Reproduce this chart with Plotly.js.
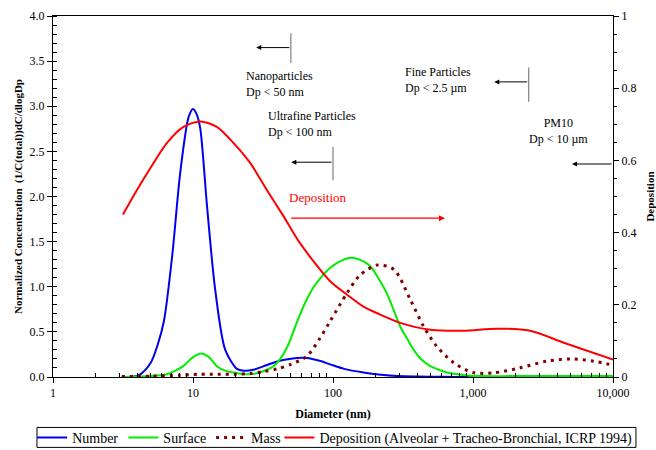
<!DOCTYPE html>
<html>
<head>
<meta charset="utf-8">
<script src="https://cdn.plot.ly/plotly-3.0.1.min.js"></script>
<style>html,body{margin:0;padding:0;background:#fff;}#chart{width:656px;height:450px;}</style>
</head>
<body>
<div id="chart"></div>
<script>
// Diameter (nm) and normalized concentration values
const numberD = [3.1, 3.6, 4.2, 5, 5.6, 6.2, 7.1, 8.1, 9.3, 10, 10.7, 11.3, 12.6, 14.4, 17, 20.6, 23, 27, 32, 38, 45, 55, 65, 80, 95.5, 120, 165, 220, 290, 400, 600, 1000, 2000, 5000, 10000];
const numberV = [0, 0, 0.03, 0.16, 0.36, 0.62, 1.34, 2.26, 2.88, 2.97, 2.9, 2.74, 1.89, 0.97, 0.30, 0.09, 0.07, 0.08, 0.12, 0.16, 0.19, 0.21, 0.21, 0.18, 0.14, 0.09, 0.05, 0.025, 0.01, 0.005, 0.002, 0, 0, 0, 0];

const surfaceD = [3.1, 4, 5, 6.5, 7.5, 8.5, 10, 11.5, 13, 14.8, 17, 19.5, 22, 25.6, 30, 37.6, 42, 48, 55, 64, 73, 84, 95.5, 115, 134, 155, 184, 210, 242, 270, 302, 340, 377, 430, 496, 570, 652, 780, 912, 1200, 2000, 5000, 10000];
const surfaceV = [0, 0.005, 0.01, 0.03, 0.07, 0.12, 0.22, 0.26, 0.22, 0.12, 0.07, 0.05, 0.035, 0.03, 0.05, 0.12, 0.2, 0.36, 0.6, 0.84, 1.0, 1.12, 1.21, 1.29, 1.32, 1.30, 1.23, 1.1, 0.93, 0.75, 0.56, 0.42, 0.30, 0.19, 0.12, 0.08, 0.05, 0.03, 0.017, 0.01, 0.01, 0.01, 0.01];

const massD = [3.1, 5, 8, 11, 15, 20, 26, 32, 40, 50, 65, 80, 95.5, 126, 156, 207, 273, 356, 444, 551, 725, 1000, 1390, 2150, 3350, 5000, 7300, 10000];
const massV = [0.005, 0.01, 0.02, 0.03, 0.03, 0.03, 0.04, 0.06, 0.09, 0.14, 0.23, 0.42, 0.62, 0.93, 1.13, 1.24, 1.19, 0.86, 0.56, 0.34, 0.16, 0.05, 0.045, 0.10, 0.175, 0.20, 0.175, 0.13];

// Deposition fraction (right axis)
const depD = [3.16, 3.98, 4.95, 6.5, 8.55, 11.3, 14.8, 19.5, 25.6, 33.7, 44.4, 58.3, 95.5, 126, 165, 217, 302, 496, 855, 1475, 2560, 4450, 10000];
const depV = [0.45, 0.518, 0.578, 0.648, 0.693, 0.708, 0.693, 0.648, 0.593, 0.518, 0.445, 0.37, 0.265, 0.228, 0.195, 0.173, 0.15, 0.131, 0.128, 0.134, 0.128, 0.095, 0.048];

const xTickVals = [1, 10, 100, 1000, 10000];
const xTickText = ['1', '10', '100', '1,000', '10,000'];

const seriesNames = ['Number', 'Surface', 'Mass', 'Deposition (Alveolar + Tracheo-Bronchial, ICRP 1994)'];

const minorX = [];
for (let e = 0; e < 4; e++) for (let k = 2; k <= 9; k++) minorX.push(k * Math.pow(10, e));

const serif = 'Times New Roman';

const traces = [
  {x: numberD, y: numberV, name: seriesNames[0], mode: 'lines', line: {color: '#0000ee', width: 2, shape: 'spline', smoothing: 0.8}},
  {x: surfaceD, y: surfaceV, name: seriesNames[1], mode: 'lines', line: {color: '#00ee00', width: 2, shape: 'spline', smoothing: 0.8}},
  {x: massD, y: massV, name: seriesNames[2], mode: 'lines', line: {color: '#800000', width: 3, dash: '3px,5px', shape: 'spline', smoothing: 0.8}},
  {x: depD, y: depV, name: seriesNames[3], yaxis: 'y2', legend: 'legend2', mode: 'lines', line: {color: '#ff0000', width: 2, shape: 'spline', smoothing: 0.8}}
];

// guide lines (vertical bars of the size-class markers)
const guides = [
  {x: [50, 50], y: [3.48, 3.81]},
  {x: [2500, 2500], y: [3.05, 3.43]},
  {x: [100, 100], y: [2.18, 2.55]}
];
guides.forEach(g => traces.push({x: g.x, y: g.y, mode: 'lines', showlegend: false, hoverinfo: 'skip', line: {color: '#808080', width: 1.2}}));

function arrow(x0, x1, y, color, width) {
  return {x: Math.log10(x1), y: y, ax: Math.log10(x0), ay: y, xref: 'x', yref: 'y', axref: 'x', ayref: 'y',
    showarrow: true, arrowhead: 2, arrowsize: 1, arrowwidth: width, arrowcolor: color, text: ''};
}
function label(x, y, text, anchor) {
  return {x: Math.log10(x), y: y, xref: 'x', yref: 'y', text: text, showarrow: false, xanchor: anchor, yanchor: 'middle', align: anchor,
    font: {family: serif, size: 12, color: '#000'}};
}

const annotations = [
  arrow(50, 28.3, 3.65, '#000', 1),
  arrow(2500, 1420, 3.27, '#000', 1),
  arrow(100, 50.4, 2.38, '#000', 1),
  arrow(10000, 5100, 2.36, '#000', 1),
  arrow(49, 630, 1.76, '#ff0000', 1.2),
  label(23.2, 3.25, 'Nanoparticles<br>Dp < 50 nm', 'left'),
  label(316, 3.29, 'Fine Particles<br>Dp < 2.5 µm', 'left'),
  label(33.2, 2.80, 'Ultrafine Particles<br>Dp < 100 nm', 'left'),
  label(4060, 2.73, 'PM10<br>Dp < 10 µm', 'center'),
  {x: Math.log10(46.9), y: 1.99, xref: 'x', yref: 'y', text: 'Deposition', showarrow: false, xanchor: 'left', yanchor: 'middle',
    font: {family: serif, size: 13, color: '#ff0000'}}
];

const legendCommon = {orientation: 'h', xref: 'container', yref: 'container', xanchor: 'left', yanchor: 'middle', y: 0.0267,
  borderwidth: 0, bgcolor: 'rgba(0,0,0,0)', font: {family: serif, size: 14, color: '#000'}, itemwidth: 30, tracegroupgap: 0};

const layout = {
  width: 656, height: 450,
  margin: {l: 53, r: 43, t: 16, b: 72.5},
  paper_bgcolor: '#fff', plot_bgcolor: '#fff',
  font: {family: serif, size: 12, color: '#000'},
  showlegend: true,
  legend: Object.assign({}, legendCommon, {x: 0.049}),
  legend2: Object.assign({}, legendCommon, {x: 0.426}),
  shapes: [{type: 'rect', xref: 'paper', yref: 'paper', x0: -0.0286, x1: 1.041, y0: -0.195, y1: -0.1397,
    line: {color: '#000', width: 1}, fillcolor: 'rgba(0,0,0,0)', layer: 'below'}],
  xaxis: {type: 'log', range: [0, 4], tickvals: xTickVals, ticktext: xTickText,
    showline: true, linecolor: '#000', linewidth: 1, mirror: true, showgrid: false, zeroline: false,
    ticks: 'outside', ticklen: 5, tickcolor: '#000',
    minor: {tickvals: minorX, ticks: 'inside', ticklen: 4, tickcolor: '#000', showgrid: false},
    tickfont: {family: serif, size: 12},
    title: {text: '<b>Diameter (nm)</b>', font: {family: serif, size: 12}, standoff: 10}},
  yaxis: {range: [0, 4], dtick: 0.5, tickformat: '.1f',
    showline: true, linecolor: '#000', linewidth: 1, showgrid: false, zeroline: false,
    ticks: 'outside', ticklen: 5, tickcolor: '#000',
    minor: {dtick: 0.1, ticks: 'inside', ticklen: 4, tickcolor: '#000', showgrid: false},
    tickfont: {family: serif, size: 12},
    title: {text: '<b>Normalized Concentration  (1/C(total))dC/dlogDp</b>', font: {family: serif, size: 11}, standoff: 4}},
  yaxis2: {range: [0, 1], dtick: 0.2, overlaying: 'y', side: 'right',
    showline: true, linecolor: '#000', linewidth: 1, showgrid: false, zeroline: false,
    ticks: 'outside', ticklen: 5, tickcolor: '#000',
    minor: {dtick: 0.05, ticks: 'outside', ticklen: 3, tickcolor: '#000', showgrid: false},
    tickfont: {family: serif, size: 12},
    title: {text: '<b>Deposition</b>', font: {family: serif, size: 11}, standoff: 10}},
  annotations: annotations
};

Plotly.newPlot('chart', traces, layout, {displayModeBar: false, staticPlot: true});
</script>
</body>
</html>
